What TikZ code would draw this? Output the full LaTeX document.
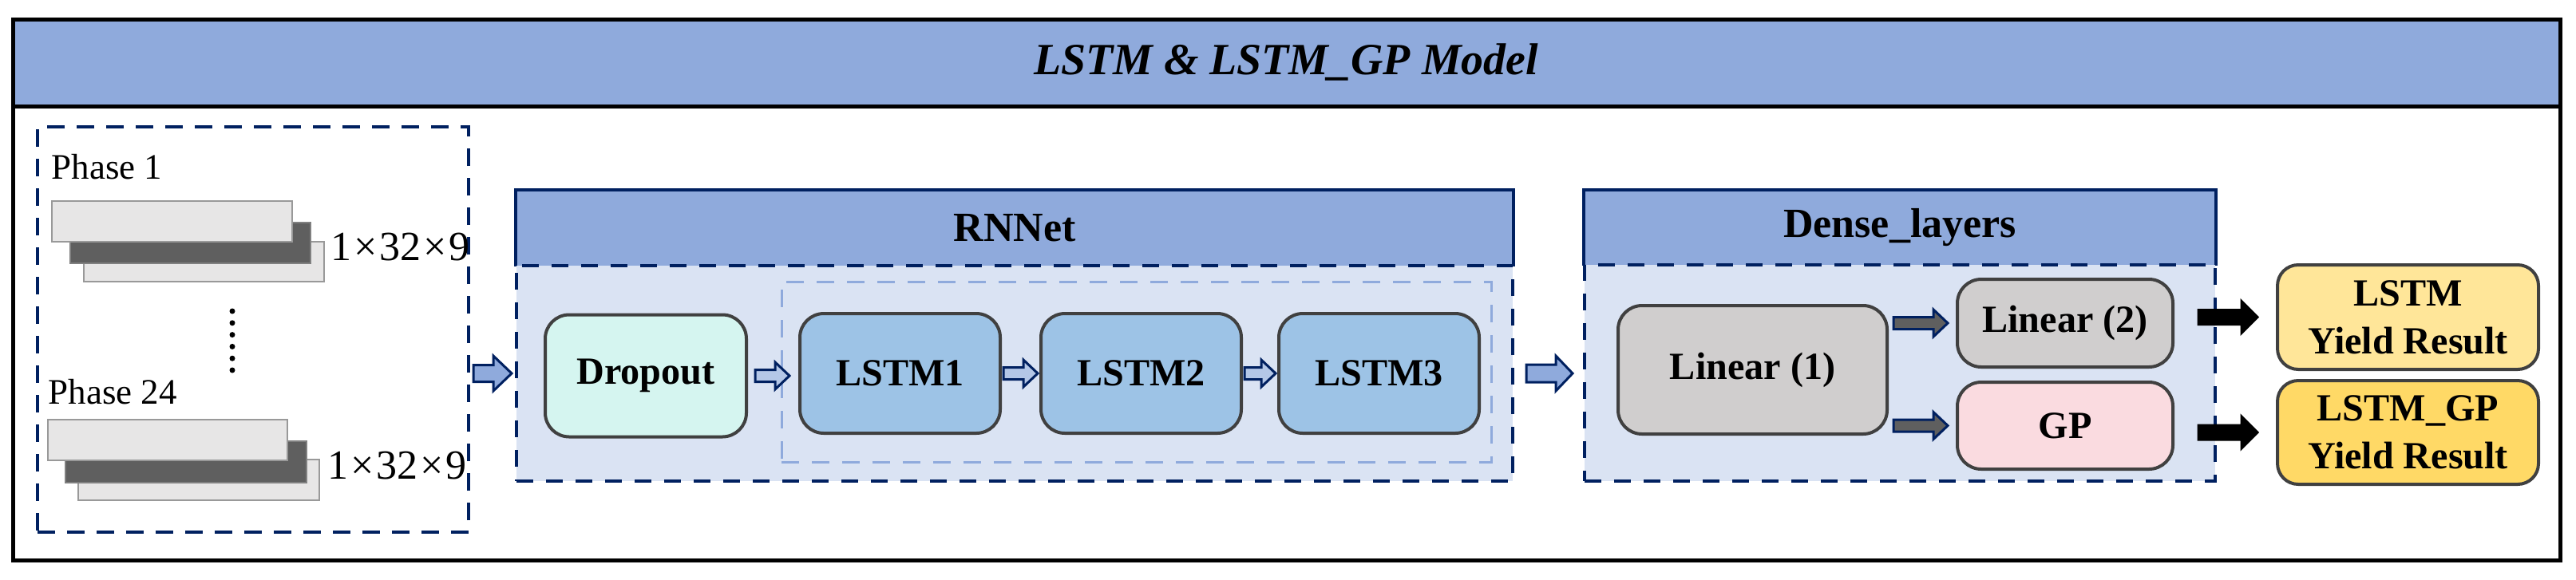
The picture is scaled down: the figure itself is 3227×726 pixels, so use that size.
\documentclass[tikz,border=0pt]{standalone}
\usepackage{fontspec}
\setmainfont{Liberation Serif}
\usetikzlibrary{calc}
\definecolor{hdr}{HTML}{8FAADC}
\definecolor{lite}{HTML}{DAE3F3}
\definecolor{navy}{HTML}{002060}
\definecolor{mint}{HTML}{D5F5F0}
\definecolor{lstmc}{HTML}{9DC3E6}
\definecolor{grayc}{HTML}{D0CECE}
\definecolor{pinkc}{HTML}{FADBE0}
\definecolor{yelA}{HTML}{FFE699}
\definecolor{yelB}{HTML}{FFD966}
\definecolor{arrlite}{HTML}{B4C7E7}
\definecolor{plite}{HTML}{E7E6E6}
\definecolor{pdark}{HTML}{5F5F5F}
% block arrow: style, from, to, gap start, gap end, half shaft, half head, head length
\newcommand\barrow[8]{%
  \draw[#1] let \p1=(#2), \p2=(#3) in
    ({\x1+#4},{\y1+#6}) -- ({\x2-#5-#8},{\y1+#6}) -- ({\x2-#5-#8},{\y1+#7}) --
    ({\x2-#5},{\y1}) -- ({\x2-#5-#8},{\y1-#7}) -- ({\x2-#5-#8},{\y1-#6}) --
    ({\x1+#4},{\y1-#6}) -- cycle;}
\begin{document}
\begin{tikzpicture}[x=0.1mm,y=-0.1mm,
  blk/.style={rounded corners=3mm, draw=black!75, line width=0.4mm, align=center,
    inner sep=0pt, font=\bfseries\fontsize{13.7pt}{17pt}\selectfont},
  hdrbox/.style={fill=hdr, inner sep=0pt, font=\bfseries\fontsize{14.8pt}{17pt}\selectfont},
  lowbox/.style={fill=lite, draw=navy, line width=0.4mm, dash pattern=on 2.1mm off 1.6mm, inner sep=0pt},
  grpbox/.style={draw=hdr, line width=0.3mm, dash pattern=on 2.2mm off 1.6mm, inner sep=0pt},
  phbox/.style={draw=navy, line width=0.4mm, dash pattern=on 2.2mm off 1.5mm, inner sep=0pt},
  plight/.style={fill=plite, draw=black!40, line width=0.2mm},
  pdk/.style={fill=pdark, draw=black!50, line width=0.2mm},
  phtxt/.style={inner sep=0pt, font=\fontsize{12.8pt}{15pt}\selectfont},
  dimtxt/.style={inner sep=0pt, font=\fontsize{14.8pt}{17pt}\selectfont},
  bluearr/.style={fill=hdr, draw=navy, line width=0.3mm},
  litearr/.style={fill=arrlite, draw=navy, line width=0.3mm},
  grayarr/.style={fill=pdark, draw=navy, line width=0.3mm},
  blackarr/.style={fill=black, draw=black, line width=0.3mm},
]
\useasboundingbox (0,0) rectangle (3227,726);
% outer frame
\fill[hdr] (16,24) rectangle (3207,133);
\draw[line width=0.5mm] (16,24) rectangle (3207,702);
\draw[line width=0.5mm] (16,133) -- (3207,133);
\node[inner sep=0pt, font=\bfseries\itshape\fontsize{15.9pt}{18pt}\selectfont] (title) at (1611,78) {LSTM \& LSTM\_GP Model};

% input phases
\node[phbox, minimum width=54mm, minimum height=50.8mm] (phases) at (317,413) {};
\node[phtxt, anchor=base west] (ph1) at (64,224) {Phase 1};
\filldraw[plight] (105,303) rectangle (406,353);
\filldraw[pdk] (88,279) rectangle (389,330);
\filldraw[plight] (65,252) rectangle (366,303);
\node[dimtxt, anchor=base west] (dim1) at (414,326) {1\kern0.8pt×\kern0.8pt32\kern0.8pt×\kern0.8pt9};
\foreach \i in {0,...,5} \fill (291,{390+14.8*\i}) circle (0.35mm);
\node[phtxt, anchor=base west] (ph24) at (60,506) {Phase 24};
\filldraw[plight] (98,576) rectangle (400,627);
\filldraw[pdk] (82,553) rectangle (384,605);
\filldraw[plight] (60,526) rectangle (360,577);
\node[dimtxt, anchor=base west] (dim24) at (410,600) {1\kern0.8pt×\kern0.8pt32\kern0.8pt×\kern0.8pt9};

% RNNet
\node[hdrbox, minimum width=124.8mm, minimum height=9.4mm] (rnhead) at (1271,286) {RNNet};
\draw[navy, line width=0.4mm] (rnhead.south west) -- (rnhead.north west) -- (rnhead.north east) -- (rnhead.south east);
\node[lowbox, minimum width=124.8mm, minimum height=27mm] (rnlow) at (1271,468) {};
\node[grpbox, minimum width=88.9mm, minimum height=22.6mm] (grp) at (1423.5,466) {};
\node[blk, fill=mint, minimum width=25.2mm, minimum height=15.3mm] (drop) at (809,471) {Dropout};
\node[blk, fill=lstmc, minimum width=25.1mm, minimum height=15mm] (l1) at (1127.5,468) {LSTM1};
\node[blk, fill=lstmc, minimum width=25.1mm, minimum height=15mm] (l2) at (1429.5,468) {LSTM2};
\node[blk, fill=lstmc, minimum width=25.1mm, minimum height=15mm] (l3) at (1727.5,468) {LSTM3};

% Dense layers
\node[hdrbox, minimum width=79mm, minimum height=9.3mm] (dnhead) at (2380,285.5) {Dense\_layers};
\draw[navy, line width=0.4mm] (dnhead.south west) -- (dnhead.north west) -- (dnhead.north east) -- (dnhead.south east);
\node[lowbox, minimum width=79mm, minimum height=27.1mm] (dnlow) at (2380,467.5) {};
\node[blk, fill=grayc, minimum width=33.7mm, minimum height=16.1mm] (lin1) at (2195.5,463.5) {Linear (1)};
\node[blk, fill=grayc, minimum width=27mm, minimum height=11mm] (lin2) at (2587,405) {Linear (2)};
\node[blk, fill=pinkc, minimum width=27mm, minimum height=10.9mm] (gp) at (2587,533.5) {GP};

% results
\node[blk, rounded corners=2.6mm, fill=yelA, minimum width=32.7mm, minimum height=13.1mm] (res1) at (3016.5,397.5) {LSTM\\Yield Result};
\node[blk, rounded corners=2.6mm, fill=yelB, minimum width=32.7mm, minimum height=13mm] (res2) at (3016.5,542) {LSTM\_GP\\Yield Result};

% arrows
\barrow{bluearr}{phases.east|-rnlow.west}{rnlow.west}{0.4mm}{0.4mm}{1.05mm}{2.2mm}{2.3mm}
\barrow{litearr}{drop.east}{l1.west}{0.9mm}{1.1mm}{0.75mm}{1.7mm}{1.8mm}
\barrow{litearr}{l1.east}{l2.west}{0.2mm}{0.2mm}{0.75mm}{1.7mm}{1.8mm}
\barrow{litearr}{l2.east}{l3.west}{0.2mm}{0.2mm}{0.75mm}{1.7mm}{1.8mm}
\barrow{bluearr}{rnlow.east}{dnlow.west}{1.5mm}{1.3mm}{1.1mm}{2.2mm}{2.1mm}
\barrow{grayarr}{lin1.east|-lin2.west}{lin2.west}{0.6mm}{1mm}{0.75mm}{1.7mm}{1.8mm}
\barrow{grayarr}{lin1.east|-gp.west}{gp.west}{0.6mm}{1mm}{0.75mm}{1.7mm}{1.8mm}
\barrow{blackarr}{lin2.east|-res1.west}{res1.west}{3mm}{2.3mm}{0.9mm}{2mm}{2mm}
\barrow{blackarr}{gp.east|-res2.west}{res2.west}{3mm}{2.3mm}{0.9mm}{2mm}{2mm}
\end{tikzpicture}
\end{document}
